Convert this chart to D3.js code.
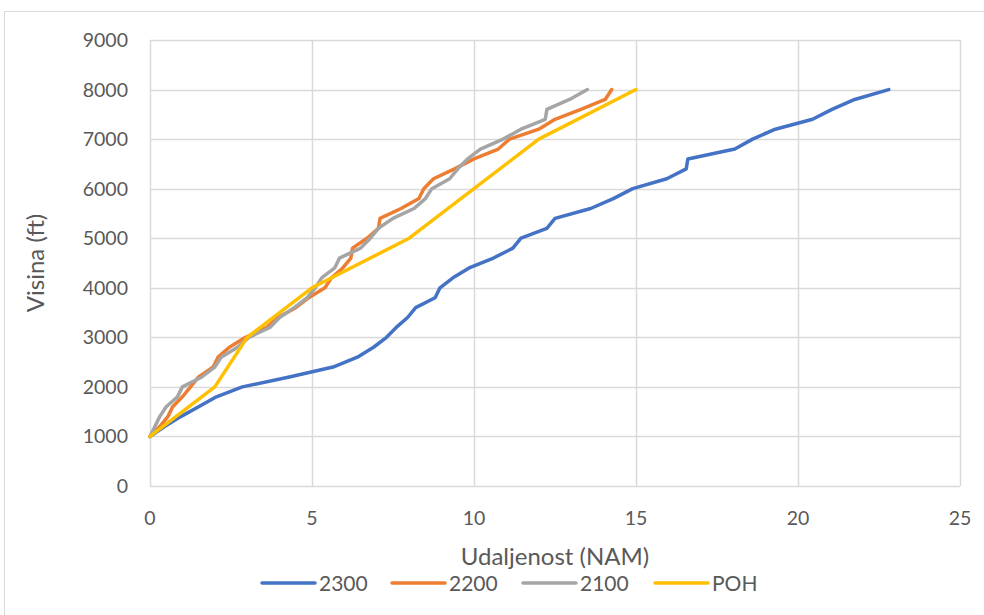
<!DOCTYPE html>
<html>
<head>
<meta charset="utf-8">
<script src="https://cdn.jsdelivr.net/npm/d3@7"></script>
<style>
  html, body { margin: 0; padding: 0; background: #fff; }
  svg { display: block; font-family: Lato, "Open Sans", sans-serif; }
</style>
</head>
<body>
<svg id="chart" width="984" height="615"></svg>
<script>
// altitude steps (ft), shared by the three measured series
const altitudes = [1000,1200,1400,1600,1800,2000,2200,2400,2600,2800,3000,3200,3400,3600,3800,4000,4200,4400,4600,4800,5000,5200,5400,5600,5800,6000,6200,6400,6600,6800,7000,7200,7400,7600,7800,8000];

// distance (NM) per altitude step
const dist2300 = [0,0.45,0.95,1.5,2.05,2.85,4.3,5.65,6.4,6.9,7.3,7.6,7.95,8.2,8.8,8.95,9.35,9.85,10.6,11.2,11.45,12.25,12.5,13.6,14.3,14.9,15.95,16.55,16.6,18.05,18.6,19.3,20.45,21.05,21.75,22.8];
const dist2200 = [0,0.3,0.55,0.7,1.0,1.25,1.5,1.95,2.1,2.45,2.95,3.6,3.95,4.5,4.9,5.4,5.6,5.95,6.2,6.25,6.7,7.05,7.1,7.75,8.3,8.45,8.75,9.4,10.0,10.75,11.1,12.0,12.5,13.3,14.05,14.25];
const dist2100 = [0,0.15,0.3,0.5,0.85,1.0,1.6,2.0,2.2,2.7,3.05,3.7,4.0,4.45,4.85,5.1,5.3,5.7,5.85,6.5,6.8,7.05,7.5,8.15,8.5,8.7,9.25,9.5,9.8,10.2,10.9,11.45,12.2,12.25,12.95,13.5];

// POH reference line
const pohDist = [0,2,3,5,8,12,15];
const pohAlt  = [1000,2000,3000,4000,5000,7000,8000];

const seriesNames  = ["2300","2200","2100","POH"];
const seriesColors = ["#4472C4","#ED7D31","#A5A5A5","#FFC000"];

const xTicks = [0,5,10,15,20,25];
const yTicks = [0,1000,2000,3000,4000,5000,6000,7000,8000,9000];

const series = [
  altitudes.map((a,i) => [dist2300[i], a]),
  altitudes.map((a,i) => [dist2200[i], a]),
  altitudes.map((a,i) => [dist2100[i], a]),
  pohAlt.map((a,i) => [pohDist[i], a])
];

const svg = d3.select("#chart");
const plotL = 150, plotR = 960, plotT = 40, plotB = 486;

const x = d3.scaleLinear().domain([0,25]).range([plotL,plotR]);
const y = d3.scaleLinear().domain([0,9000]).range([plotB,plotT]);

// outer chart frame
svg.append("rect")
  .attr("x", 4.5).attr("y", 11.5)
  .attr("width", 1000).attr("height", 700)
  .attr("fill", "#fff").attr("stroke", "#D9D9D9");

// gridlines
svg.append("g")
  .selectAll("line")
  .data(yTicks)
  .enter().append("line")
  .attr("x1", plotL).attr("x2", plotR)
  .attr("y1", d => Math.round(y(d)) + 0.5).attr("y2", d => Math.round(y(d)) + 0.5)
  .attr("stroke", "#D9D9D9").attr("stroke-width", 1.5);

svg.append("g")
  .selectAll("line")
  .data(xTicks)
  .enter().append("line")
  .attr("y1", plotT).attr("y2", plotB)
  .attr("x1", d => Math.round(x(d)) + 0.5).attr("x2", d => Math.round(x(d)) + 0.5)
  .attr("stroke", "#D9D9D9").attr("stroke-width", 1.5);

// tick labels
svg.append("g")
  .selectAll("text")
  .data(yTicks)
  .enter().append("text")
  .attr("x", 128).attr("y", d => y(d) + 7)
  .attr("text-anchor", "end")
  .attr("font-size", 19.5).attr("fill", "#595959")
  .text(d => d);

svg.append("g")
  .selectAll("text")
  .data(xTicks)
  .enter().append("text")
  .attr("x", d => x(d)).attr("y", 525)
  .attr("text-anchor", "middle")
  .attr("font-size", 19.5).attr("fill", "#595959")
  .text(d => d);

// axis titles
svg.append("text")
  .attr("x", (plotL + plotR) / 2).attr("y", 565)
  .attr("text-anchor", "middle")
  .attr("font-size", 24).attr("fill", "#595959")
  .text("Udaljenost (NAM)");

svg.append("text")
  .attr("transform", `translate(44,${(plotT + plotB) / 2}) rotate(-90)`)
  .attr("text-anchor", "middle")
  .attr("font-size", 24).attr("fill", "#595959")
  .text("Visina (ft)");

// series lines
const line = d3.line().x(d => x(d[0])).y(d => y(d[1]));

svg.append("g")
  .selectAll("path")
  .data(series)
  .enter().append("path")
  .attr("d", line)
  .attr("fill", "none")
  .attr("stroke", (d,i) => seriesColors[i])
  .attr("stroke-width", 3.5)
  .attr("stroke-linejoin", "round")
  .attr("stroke-linecap", "round");

// legend
const legendX = [262, 392, 523, 655];
const lg = svg.append("g")
  .selectAll("g")
  .data(seriesNames)
  .enter().append("g")
  .attr("transform", (d,i) => `translate(${legendX[i]},583)`);

lg.append("line")
  .attr("x1", 0).attr("x2", 53)
  .attr("stroke", (d,i) => seriesColors[i])
  .attr("stroke-width", 3.5)
  .attr("stroke-linecap", "round");

lg.append("text")
  .attr("x", 57).attr("y", 7.5)
  .attr("font-size", 21).attr("fill", "#595959")
  .text(d => d);
</script>
</body>
</html>
